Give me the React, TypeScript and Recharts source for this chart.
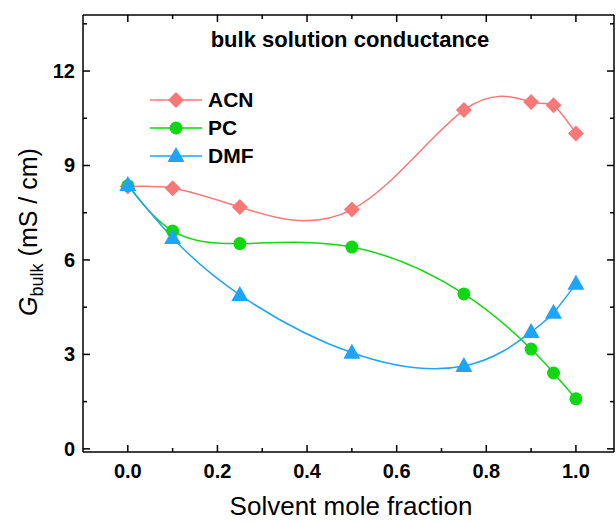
import { LineChart, Line, XAxis, YAxis } from 'recharts';

const fractions = [0, 0.1, 0.25, 0.5, 0.75, 0.9, 0.95, 1.0];
const acnValues = [8.33, 8.28, 7.68, 7.6, 10.76, 11.02, 10.91, 10.02];
const pcValues = [8.36, 6.92, 6.52, 6.41, 4.92, 3.17, 2.41, 1.59];
const dmfValues = [8.38, 6.7, 4.89, 3.05, 2.63, 3.71, 4.32, 5.24];

const seriesNames = ['ACN', 'PC', 'DMF'];

const xMajor = [0, 0.2, 0.4, 0.6, 0.8, 1.0];
const xTicks = [0, 0.1, 0.2, 0.3, 0.4, 0.5, 0.6, 0.7, 0.8, 0.9, 1.0];
const yMajor = [0, 3, 6, 9, 12];
const yTicks = [0, 1.5, 3, 4.5, 6, 7.5, 9, 10.5, 12, 13.5];

const data = fractions.map((x, i) => ({
  x,
  acn: acnValues[i],
  pc: pcValues[i],
  dmf: dmfValues[i],
}));

const FONT = '"Liberation Sans", Arial, sans-serif';
const COLORS: Record<string, string> = { ACN: '#f87878', PC: '#10d810', DMF: '#1ea4f8' };

const isMajor = (v: number, list: number[]) => list.some(m => Math.abs(m - v) < 1e-6);

function Diamond({ cx, cy, fill }: any) {
  if (cx == null || cy == null) return null;
  const r = 8;
  return <path d={`M${cx},${cy - r}L${cx + r},${cy}L${cx},${cy + r}L${cx - r},${cy}Z`} fill={fill} />;
}
function Dot({ cx, cy, fill }: any) {
  if (cx == null || cy == null) return null;
  return <circle cx={cx} cy={cy} r={6.5} fill={fill} />;
}
function Triangle({ cx, cy, fill }: any) {
  if (cx == null || cy == null) return null;
  return <path d={`M${cx},${cy - 9}L${cx + 8.5},${cy + 6}L${cx - 8.5},${cy + 6}Z`} fill={fill} />;
}

function BottomTick({ x, y, payload }: any) {
  const major = isMajor(payload.value, xMajor);
  return (
    <g>
      <line x1={x} x2={x} y1={y} y2={y - (major ? 7 : 4)} stroke="#000" strokeWidth={1.5} />
      {major && (
        <text x={x} y={y + 26} textAnchor="middle" fontSize={20} fontWeight="bold" fontFamily={FONT} fill="#000">
          {payload.value.toFixed(1)}
        </text>
      )}
    </g>
  );
}
function TopTick({ x, y, payload }: any) {
  const major = isMajor(payload.value, xMajor);
  return <line x1={x} x2={x} y1={y} y2={y + (major ? 7 : 4)} stroke="#000" strokeWidth={1.5} />;
}
function LeftTick({ x, y, payload }: any) {
  const major = isMajor(payload.value, yMajor);
  return (
    <g>
      <line x1={x} x2={x + (major ? 7 : 4)} y1={y} y2={y} stroke="#000" strokeWidth={1.5} />
      {major && (
        <text x={x - 8} y={y + 7} textAnchor="end" fontSize={20} fontWeight="bold" fontFamily={FONT} fill="#000">
          {payload.value}
        </text>
      )}
    </g>
  );
}
function RightTick({ x, y, payload }: any) {
  const major = isMajor(payload.value, yMajor);
  return <line x1={x} x2={x - (major ? 7 : 4)} y1={y} y2={y} stroke="#000" strokeWidth={1.5} />;
}

const markers: Record<string, any> = { ACN: Diamond, PC: Dot, DMF: Triangle };

function ChartLegend() {
  return (
    <div style={{ position: 'absolute', left: 150, top: 86, width: 140 }}>
      {seriesNames.map(name => {
        const M = markers[name];
        return (
          <div key={name} style={{ display: 'flex', alignItems: 'center', height: 28 }}>
            <svg width={58} height={24}>
              <line x1={0} x2={52} y1={12} y2={12} stroke={COLORS[name]} strokeWidth={1.5} />
              <M cx={26} cy={12} fill={COLORS[name]} />
            </svg>
            <span style={{ fontFamily: FONT, fontWeight: 'bold', fontSize: 21, color: '#000', lineHeight: '24px' }}>{name}</span>
          </div>
        );
      })}
    </div>
  );
}

export default function App() {
  return (
    <div style={{ position: 'absolute', left: 0, top: 0, width: 616, height: 523, background: '#fff' }}>
      <LineChart width={616} height={523} data={data} margin={{ top: 14, right: 1, bottom: 41, left: 33 }}>
        <XAxis
          dataKey="x"
          type="number"
          domain={[-0.1, 1.085]}
          ticks={xTicks}
          interval={0}
          allowDataOverflow
          height={30}
          tickSize={0}
          tickMargin={0}
          tickLine={false}
          axisLine={{ stroke: '#000', strokeWidth: 1.5 }}
          tick={<BottomTick />}
        />
        <XAxis
          xAxisId="top"
          orientation="top"
          dataKey="x"
          type="number"
          domain={[-0.1, 1.085]}
          ticks={xTicks}
          interval={0}
          allowDataOverflow
          height={1}
          tickSize={0}
          tickMargin={0}
          tickLine={false}
          axisLine={{ stroke: '#000', strokeWidth: 1.5 }}
          tick={<TopTick />}
        />
        <YAxis
          type="number"
          domain={[-0.1, 13.78]}
          ticks={yTicks}
          interval={0}
          allowDataOverflow
          width={50}
          tickSize={0}
          tickMargin={0}
          tickLine={false}
          axisLine={{ stroke: '#000', strokeWidth: 1.5 }}
          tick={<LeftTick />}
        />
        <YAxis
          yAxisId="right"
          orientation="right"
          type="number"
          domain={[-0.1, 13.78]}
          ticks={yTicks}
          interval={0}
          allowDataOverflow
          width={1}
          tickSize={0}
          tickMargin={0}
          tickLine={false}
          axisLine={{ stroke: '#000', strokeWidth: 1.5 }}
          tick={<RightTick />}
        />
        <Line name="ACN" dataKey="acn" type="natural" stroke={COLORS.ACN} strokeWidth={1.5}
          dot={<Diamond fill={COLORS.ACN} />} isAnimationActive={false} />
        <Line name="PC" dataKey="pc" type="natural" stroke={COLORS.PC} strokeWidth={1.5}
          dot={<Dot fill={COLORS.PC} />} isAnimationActive={false} />
        <Line name="DMF" dataKey="dmf" type="natural" stroke={COLORS.DMF} strokeWidth={1.5}
          dot={<Triangle fill={COLORS.DMF} />} isAnimationActive={false} />
        <text x={350} y={47} textAnchor="middle" fontFamily={FONT} fontWeight="bold" fontSize={22} fill="#000">
          bulk solution conductance
        </text>
        <text x={351} y={515} textAnchor="middle" fontFamily={FONT} fontSize={26} fill="#000">
          Solvent mole fraction
        </text>
        <text transform="translate(37,232) rotate(-90)" textAnchor="middle" fontFamily={FONT} fontSize={25} fill="#000">
          <tspan fontStyle="italic">G</tspan>
          <tspan fontSize={18} dy={6}>bulk</tspan>
          <tspan dy={-6}> (mS / cm)</tspan>
        </text>
      </LineChart>
      <ChartLegend />
    </div>
  );
}
